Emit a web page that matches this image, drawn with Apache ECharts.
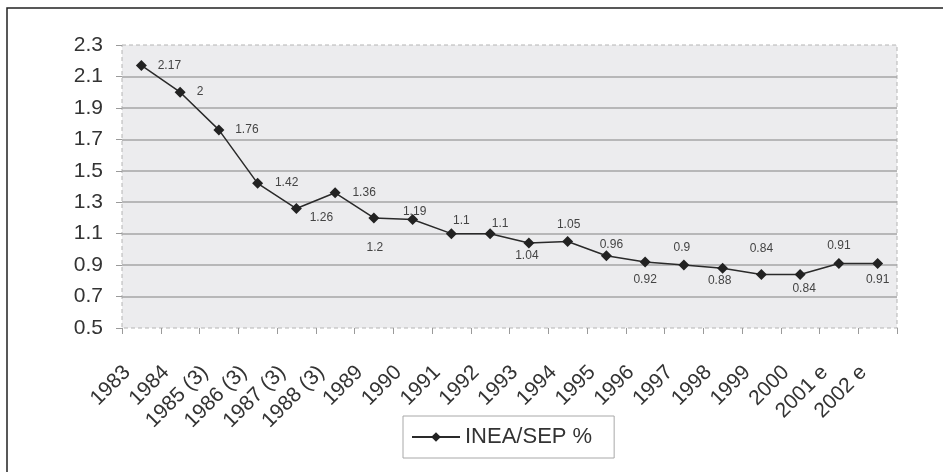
<!DOCTYPE html>
<html>
<head>
<meta charset="utf-8">
<script src="https://cdn.jsdelivr.net/npm/echarts@6/dist/echarts.min.js"></script>
<style>
  html, body { margin: 0; padding: 0; background: #ffffff; }
  #chart { width: 943px; height: 472px; }
</style>
</head>
<body>
<div id="chart"></div>
<script>
// Years on the category axis
const years = ['1983', '1984', '1985 (3)', '1986 (3)', '1987 (3)', '1988 (3)', '1989', '1990',
  '1991', '1992', '1993', '1994', '1995', '1996', '1997', '1998', '1999', '2000', '2001 e', '2002 e'];

// INEA/SEP share, in percent
const ineaSep = [2.17, 2, 1.76, 1.42, 1.26, 1.36, 1.2, 1.19, 1.1, 1.1,
  1.04, 1.05, 0.96, 0.92, 0.9, 0.88, 0.84, 0.84, 0.91, 0.91];

// Value axis range and step
const yMin = 0.5;
const yMax = 2.3;
const yStep = 0.2;

// Where each value label sits, relative to its marker centre (px)
const labelNudges = [
  [28, 0], [20, 0], [28, 0], [29, -1], [25, 9], [29, 0], [1, 30], [2, -8],
  [10, -13], [10, -10], [-2, 13], [1, -17], [5, -11], [0, 18], [-2, -17],
  [-3, 12], [0, -26], [4, 14], [0, -18], [0, 16]
];

const chart = echarts.init(document.getElementById('chart'), null, { renderer: 'canvas' });

const FONT = '"Liberation Sans", Arial, sans-serif';

chart.setOption({
  animation: false,
  backgroundColor: '#ffffff',
  graphic: [{
    type: 'rect',
    shape: { x: 7, y: 8, width: 1000, height: 520 },
    style: { fill: 'none', stroke: '#222222', lineWidth: 1.5 },
    silent: true,
    z: -10
  }],
  grid: {
    show: true,
    left: 122, right: 46, top: 45, bottom: 144,
    backgroundColor: '#ECECEE',
    borderColor: '#B4B4B4',
    borderWidth: 1,
    borderType: [4, 3]
  },
  legend: {
    left: 403, top: 416,
    padding: [10, 22, 10, 8],
    borderColor: '#A8A8A8',
    borderWidth: 1,
    itemWidth: 48,
    itemHeight: 12,
    itemGap: 5,
    textStyle: { fontFamily: FONT, fontSize: 22, color: '#333333' },
    data: ['INEA/SEP %']
  },
  xAxis: {
    type: 'category',
    data: years,
    boundaryGap: true,
    axisLine: { show: false },
    axisTick: { show: true, length: 6, lineStyle: { color: '#9A9A9A', width: 1 } },
    axisLabel: {
      interval: 0,
      rotate: 45,
      margin: 27,
      padding: [0, 20, 0, 0],
      fontFamily: FONT,
      fontSize: 21,
      color: '#333333'
    },
    splitLine: { show: false }
  },
  yAxis: {
    type: 'value',
    min: yMin,
    max: yMax,
    interval: yStep,
    axisLine: { show: false },
    axisTick: { show: true, length: 6, lineStyle: { color: '#9A9A9A', width: 1 } },
    axisLabel: {
      margin: 19,
      fontFamily: FONT,
      fontSize: 21,
      color: '#333333',
      formatter: v => v.toFixed(1)
    },
    splitLine: {
      show: true,
      showMinLine: false,
      showMaxLine: false,
      lineStyle: { color: '#A6A6A6', width: 1.5 }
    }
  },
  series: [{
    name: 'INEA/SEP %',
    type: 'line',
    data: ineaSep.map((v, i) => ({
      value: v,
      label: { offset: labelNudges[i] }
    })),
    symbol: 'diamond',
    symbolSize: 11,
    lineStyle: { color: '#2A2A2A', width: 1.5 },
    itemStyle: { color: '#222222' },
    label: {
      show: true,
      position: 'inside',
      fontFamily: FONT,
      fontSize: 12,
      color: '#444444'
    }
  }]
});
</script>
</body>
</html>
